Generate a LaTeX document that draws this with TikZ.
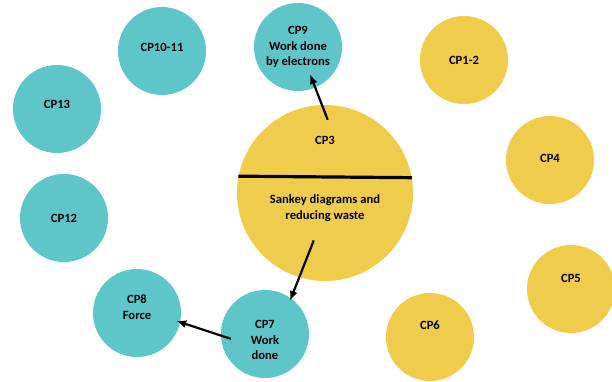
\documentclass[tikz,border=0pt]{standalone}
\usepackage{fontspec}
\setmainfont{Carlito}
\usetikzlibrary{arrows.meta}
\definecolor{cpteal}{RGB}{94,198,200}
\definecolor{cpgold}{RGB}{240,204,76}
\tikzset{
  disc/.style={circle, minimum size=88pt, inner sep=0pt},
  tealdisc/.style={disc, fill=cpteal},
  golddisc/.style={disc, fill=cpgold},
  cplabel/.style={font=\fontsize{12.6}{15.5}\selectfont\bfseries, align=center, inner sep=0pt},
  link/.style={-{Latex[length=10pt,width=8pt]}, line width=2.2pt, black},
}

\begin{document}
\begin{tikzpicture}[x=1pt,y=-1pt]
\useasboundingbox (0,0) rectangle (612,382);
% teal circles
\foreach \nm/\cx/\cy/\dy/\txt in {cp10/162/51/4/{CP10-11}, cp9/298/47/0/{CP9\\Work done\\by electrons}, cp13/57/109/5/{CP13}, cp12/64/218/0/{CP12}, cp8/137/313/6/{CP8\\Force}, cp7/265/334/-6/{CP7\\Work\\done}}{
  \node[tealdisc] (\nm) at (\cx,\cy) {};
  \node[cplabel] (\nm txt) at ([yshift=\dy pt]\nm.center) {\txt};
}
% yellow circles
\foreach \nm/\cx/\cy/\dy/\txt in {cp1/464/60/0/{CP1-2}, cp4/550/160/2/{CP4}, cp5/571/289/11/{CP5}, cp6/430/337/12/{CP6}}{
  \node[golddisc] (\nm) at (\cx,\cy) {};
  \node[cplabel] (\nm txt) at ([yshift=\dy pt]\nm.center) {\txt};
}
% central topic
\node[golddisc, minimum size=176pt] (cp3) at (325,193) {};
\node[cplabel] (cp3top) at ([yshift=53pt]cp3.center) {CP3};
\node[cplabel] (cp3text) at ([yshift=-15pt]cp3.center) {Sankey diagrams and\\reducing waste};
\draw[line width=3.2pt] (cp3.169.5) -- (cp3.10.5);
% links
\draw[link, shorten <=-16pt, shorten >=-14.6pt] (cp3.92) -- (cp9.-67);
\draw[link, shorten <=-39.6pt, shorten >=-2.9pt] (cp3.-107) -- (cp7.54);
\draw[link, shorten <=-10.5pt, shorten >=-4.2pt] (cp7.-178) -- (cp8.-12);
\end{tikzpicture}
\end{document}
